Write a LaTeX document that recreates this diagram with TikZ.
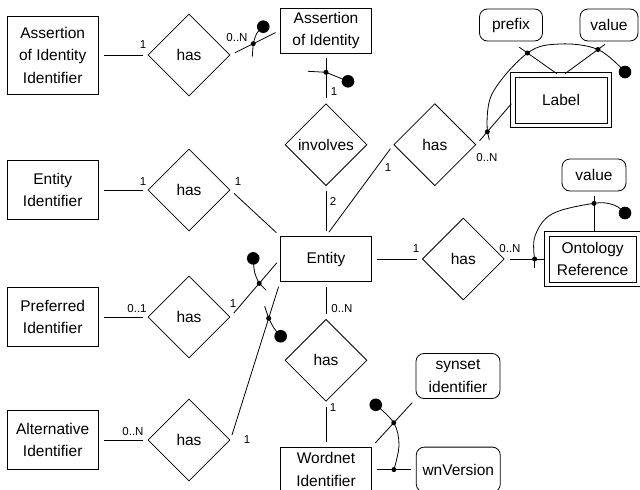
\documentclass[tikz,border=0pt]{standalone}
\usepackage{fontspec}
\setmainfont{Liberation Sans}
\usetikzlibrary{shapes.geometric, arrows, positioning, math, calc}

\begin{document}
\begin{tikzpicture}[x=1pt, y=-1pt, line width=0.8pt]
	\tikzmath{
		\colD = 189;  %x of the left diamonds
		\colM = 326;  %x of the middle column
		\boxW = 91;   %entity width
		\diaS = 82;   %diamond size
		\gap  = 5;    %gap between a line and its shapes
		\dbl  = 4;    %distance between the two lines of a weak entity
		\dotS = 2.5;  %small dot radius
		\dotB = 6.3;  %big dot radius
	}
	\tikzstyle{EntNode} = [
		rectangle,
		minimum width=\boxW pt,
		minimum height=45pt,
		inner sep=0pt,
		align=center,
		draw=black,
		font=\fontsize{15.5}{22.5}\selectfont
	]
	\tikzstyle{WeakNode} = [EntNode, minimum width=92pt, minimum height=46pt]
	\tikzstyle{RelNode}  = [EntNode, diamond, minimum width=\diaS pt, minimum height=\diaS pt]
	\tikzstyle{AttrNode} = [EntNode, rounded corners=8pt, minimum height=32pt]
	\tikzstyle{CardNode} = [inner sep=0pt, font=\fontsize{11.5}{13}\selectfont]
	\tikzstyle{Link}     = [shorten <=\gap pt, shorten >=\gap pt]

	\useasboundingbox (0,0) rectangle (640,490);

	%%%%%%%%%%%%%%%%%%%%%%%%%%===---MIDDLE COLUMN---===%%%%%%%%%%%%%%%%%%%%%%%%%%
	\node (entity)   [EntNode] at (\colM,259)            {Entity};
	\node (involves) [RelNode, above = 50pt of entity]   {involves};
	\node (aoi)      [EntNode, above = 50pt of involves] {Assertion\\of Identity};
	\node (has6)     [RelNode, below = 37pt of entity]   {has};
	\node (wn)       [EntNode, below = 45pt of has6]     {Wordnet\\Identifier};
	\draw[Link] (aoi) -- (involves);
	\draw[Link] (involves) -- (entity);
	\draw[Link] (entity) -- (has6);
	\draw[Link] (has6) -- (wn);

	%%%%%%%%%%%%%%%%%%%%%%%%%%===---LEFT COLUMN---===%%%%%%%%%%%%%%%%%%%%%%%%%%
	\node (has1) [RelNode] at (\colD,55)                             {has};
	\node (aii)  [EntNode, minimum height=78pt, left = 49pt of has1] {Assertion\\of Identity\\Identifier};
	\node (has2) [RelNode] at (\colD,190)                            {has};
	\node (ei)   [EntNode, minimum height=59pt, left = 49pt of has2] {Entity\\Identifier};
	\node (has3) [RelNode] at (\colD,317)                            {has};
	\node (pi)   [EntNode, minimum height=59pt, left = 49pt of has3] {Preferred\\Identifier};
	\node (has7) [RelNode] at (\colD,440)                            {has};
	\node (ai)   [EntNode, minimum height=59pt, left = 49pt of has7] {Alternative\\Identifier};
	\draw[Link] (aii) -- (has1);
	\draw[Link] (has1.east) -- (aoi.west);
	\draw[Link] (ei) -- (has2);
	\draw[Link] (has2.east) -- (entity.north west);
	\draw[Link] (pi) -- (has3);
	\draw[Link] (has3.east) -- (entity.west);
	\draw[Link] (ai) -- (has7);
	\draw[Link] (has7.east) -- (entity.south west);

	%%%%%%%%%%%%%%%%%%%%%%%%%%===---RIGHT SIDE---===%%%%%%%%%%%%%%%%%%%%%%%%%%
	\node (has4)   [RelNode, right = 26pt of involves]               {has};
	\node (lbl)    [WeakNode] at (561,100)                           {Label};
	\node (prefix) [AttrNode, minimum width=63pt] at (511,25)        {prefix};
	\node (value1) [AttrNode, minimum width=58pt] at (609,25)        {value};
	\node (has5)   [RelNode, right = 50pt of entity]                 {has};
	\node (ontref) [WeakNode, minimum width=87pt, right = 44pt of has5] {Ontology\\Reference};
	\node (value2) [AttrNode, minimum width=64pt] at (594,175)       {value};
	\node (syn)    [AttrNode, minimum width=84pt, minimum height=45pt] at (458,376) {synset\\identifier};
	\node (wnv)    [AttrNode, minimum width=84pt, minimum height=45pt, right = 44pt of wn] {wnVersion};
	\draw ($(lbl.north west)+(-\dbl,-\dbl)$) rectangle ($(lbl.south east)+(\dbl,\dbl)$);
	\draw ($(ontref.north west)+(-\dbl,-\dbl)$) rectangle ($(ontref.south east)+(\dbl,\dbl)$);
	\coordinate (vtop) at (value2.south |- ontref.north);
	\draw[Link] (entity.north) -- (has4.west);
	\draw[Link] (has4.east) -- (lbl.west);
	\draw[Link, shorten <=10pt] (prefix.south) -- (lbl.north);
	\draw[Link] (value1.south) -- (lbl.north);
	\draw[Link] (entity) -- (has5);
	\draw[Link] (has5) -- (ontref);
	\draw[Link] (value2.south) -- (vtop);
	\draw[Link] (wn.north east) -- (syn.south west);
	\draw[Link] (wn.east) -- (wnv.west);

	%%%%%%%%%%%%%%%%%%%%%%%%%%===---CARDINALITIES---===%%%%%%%%%%%%%%%%%%%%%%%%%%
	\node (c1)  [CardNode] at (143,45)  {1};
	\node (c2)  [CardNode] at (237,38)  {0..N};
	\node (c3)  [CardNode] at (334,92)  {1};
	\node (c4)  [CardNode] at (333,201) {2};
	\node (c5)  [CardNode] at (388,168) {1};
	\node (c6)  [CardNode] at (487,158) {0..N};
	\node (c7)  [CardNode] at (143,182) {1};
	\node (c8)  [CardNode] at (238,182) {1};
	\node (c9)  [CardNode] at (416,249) {1};
	\node (c10) [CardNode] at (510,249) {0..N};
	\node (c11) [CardNode] at (137,309) {0..1};
	\node (c12) [CardNode] at (233,304) {1};
	\node (c13) [CardNode] at (133,432) {0..N};
	\node (c14) [CardNode] at (247,440) {1};
	\node (c15) [CardNode] at (342,309) {0..N};
	\node (c16) [CardNode] at (333,408) {1};

	%%%%%%%%%%%%%%%%%%%%%%%%%%===---CONSTRAINTS---===%%%%%%%%%%%%%%%%%%%%%%%%%%
	\coordinate (k1) at ($(has1.east)!0.46!(aoi.west)$);
	\coordinate (t1) at ($(k1)+(-1,13)$);
	\coordinate (b1) at ($(k1)+(10,-17)$);
	\draw (t1) -- (k1) .. controls ($(k1)+(3,-11)$) .. (b1);
	\fill (k1) circle (\dotS pt) (b1) circle (\dotB pt);

	\coordinate (k2) at ($(aoi.south)!0.38!(involves.north)$);
	\coordinate (t2) at ($(k2)+(-18,-1)$);
	\coordinate (b2) at ($(k2)+(22,9)$);
	\draw (t2) -- (k2) -- (b2);
	\fill (k2) circle (\dotS pt) (b2) circle (\dotB pt);

	\coordinate (k3) at ($(has4.east)!0.29!(lbl.west)$);
	\coordinate (kp) at ($(prefix.south)!0.33!(lbl.north)$);
	\coordinate (kv) at ($(value1.south)!0.23!(lbl.north)$);
	\coordinate (t3) at ($(k3)+(2,8)$);
	\coordinate (b3) at (625,72);
	\draw (t3) -- (k3);
	\draw plot[smooth, tension=0.6] coordinates {(k3) (492,94) (kp) (560,44) (kv) (b3)};
	\fill (k3) circle (\dotS pt) (kp) circle (\dotS pt) (kv) circle (\dotS pt) (b3) circle (\dotB pt);

	\coordinate (k4)  at ($(has5.east)!0.68!(ontref.west)$);
	\coordinate (kov) at ($(value2.south)!0.27!(vtop)$);
	\coordinate (t4)  at ($(k4)+(0,9)$);
	\coordinate (b4)  at (625,213);
	\draw (t4) -- (k4);
	\draw plot[smooth, tension=0.6] coordinates {(k4) (535,236) (552,214) (kov) (614,205) (b4)};
	\fill (k4) circle (\dotS pt) (kov) circle (\dotS pt) (b4) circle (\dotB pt);

	\coordinate (k5) at ($(has3.east)!0.58!(entity.west)$);
	\coordinate (t5) at ($(k5)+(7,7)$);
	\coordinate (b5) at ($(k5)+(-6,-25)$);
	\draw (t5) -- (k5) .. controls ($(k5)+(-5,-10)$) .. (b5);
	\fill (k5) circle (\dotS pt) (b5) circle (\dotB pt);

	\coordinate (k6) at ($(has7.east)!0.77!(entity.south west)$);
	\coordinate (t6) at ($(k6)+(-4,-12)$);
	\coordinate (b6) at ($(k6)+(12,18)$);
	\draw (t6) -- (k6) .. controls ($(k6)+(5,10)$) .. (b6);
	\fill (k6) circle (\dotS pt) (b6) circle (\dotB pt);

	\coordinate (k7a) at ($(wn.north east)!0.5!(syn.south west)$);
	\coordinate (k7b) at ($(wn.east)!0.5!(wnv.west)$);
	\coordinate (b7)  at ($(k7a)+(-18,-18)$);
	\draw plot[smooth, tension=0.6] coordinates {(b7) (k7a) (399,445) (k7b)};
	\fill (k7a) circle (\dotS pt) (k7b) circle (\dotS pt) (b7) circle (\dotB pt);
\end{tikzpicture}
\end{document}
